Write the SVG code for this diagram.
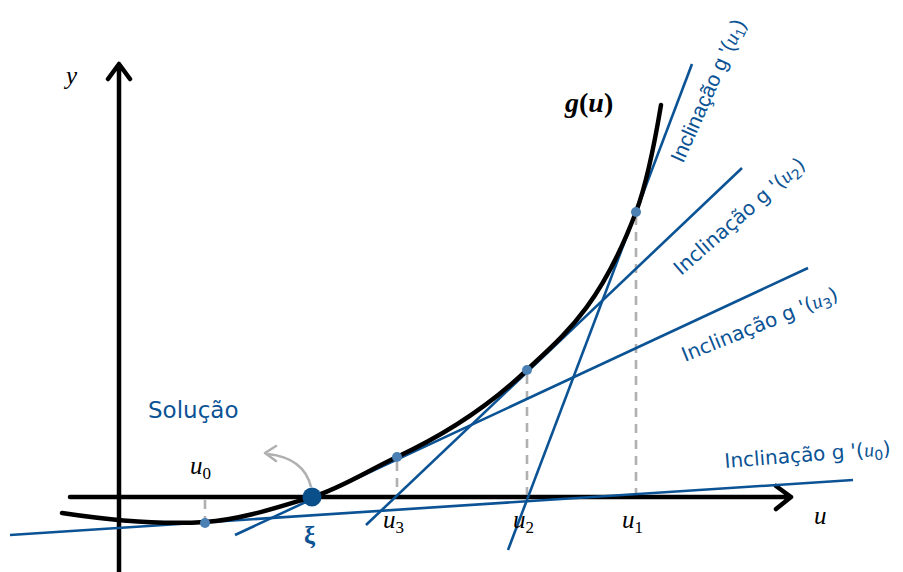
<svg xmlns="http://www.w3.org/2000/svg" width="903" height="572" viewBox="0 0 903 572">
<style>
.axis{stroke:#000;stroke-width:4.5;fill:none;stroke-linecap:round;stroke-linejoin:round}
.curve{stroke:#000;stroke-width:4.5;fill:none;stroke-linecap:round}
.tan{stroke:#0b5394;stroke-width:2.6;fill:none}
.dash{stroke:#b0b0b0;stroke-width:2.6;stroke-dasharray:9,7;fill:none}
.dot{fill:#4a80b4}
.math{font-family:"Liberation Serif","DejaVu Serif",serif;font-style:italic;font-size:25px;fill:#000}
.sub{font-style:normal;font-size:17px}
.lab{font-family:"DejaVu Sans","Open Sans",sans-serif;font-size:20px;fill:#0b5394}
.lab1{font-family:"Liberation Sans",Arial,sans-serif;font-size:21px;fill:#0b5394}
.lm{font-family:"Liberation Serif",serif;font-style:italic}
.ls{font-size:14px}
</style>
<rect width="903" height="572" fill="#fff"/>
<g id="axes">
<path class="axis" d="M119,572 V64 M108,79 L119,64 L130,79"/>
<path class="axis" d="M70,497 H791 M776,486 L791,497 L776,509"/>
</g>
<g id="guides">
<path class="dash" d="M205,500 V520 M397,462 V495 M527,375 V495 M636,216 V495"/>
</g>
<g id="connectors">
<line class="tan" x1="10" y1="535" x2="853" y2="480"/>
<line class="tan" x1="235" y1="535" x2="808" y2="268"/>
<line class="tan" x1="366" y1="525" x2="742" y2="168"/>
<line class="tan" x1="508" y1="550" x2="692" y2="64"/>
<path d="M311,487 Q304,458 268,454" stroke="#b0b0b0" stroke-width="2.6" fill="none"/>
<path d="M276,446 L265,453 L276,461" stroke="#b0b0b0" stroke-width="2.6" fill="none" stroke-linecap="round" stroke-linejoin="round"/>
</g>
<g id="curve">
<path class="curve" d="M62,513 C109.7,520.2 157.3,525.1 205,522 C240.7,519.7 276.3,507.7 312,497 C340.3,488.5 368.7,470.2 397,457 C440.3,436.8 483.7,411.1 527,370 C563.3,335.5 599.7,307.9 636,212 C644.3,190 652.7,154.8 661,105"/>
</g>
<g id="points">
<circle class="dot" cx="205" cy="523" r="5"/>
<circle class="dot" cx="397" cy="457" r="5"/>
<circle class="dot" cx="527" cy="370" r="5"/>
<circle class="dot" cx="636" cy="212" r="5"/>
<circle cx="312" cy="497" r="9.5" fill="#0a4f8a"/>
</g>
<g id="labels">
<text class="math" x="66" y="84">y</text>
<text class="math" x="814" y="524">u</text>
<text class="math" x="565" y="112" style="font-weight:bold;font-style:normal;font-size:28px"><tspan font-style="italic">g</tspan>(<tspan font-style="italic">u</tspan>)</text>
<text class="math" x="190" y="474">u<tspan class="sub" dy="5">0</tspan></text>
<text class="math" x="383" y="528">u<tspan class="sub" dy="5">3</tspan></text>
<text class="math" x="513" y="528">u<tspan class="sub" dy="5">2</tspan></text>
<text class="math" x="622" y="528">u<tspan class="sub" dy="5">1</tspan></text>
<text class="math" x="304" y="544" style="fill:#0b5394;font-weight:bold;font-style:normal">ξ</text>
<text class="lab" x="148" y="418" style="font-size:23px">Solução</text>
<text class="lab1" transform="translate(683,164) rotate(-66)">Inclinação g '(<tspan class="lm">u</tspan><tspan class="ls" dy="4">1</tspan><tspan dy="-4">)</tspan></text>
<text class="lab" transform="translate(681,276) rotate(-41)">Inclinação g '(<tspan class="lm">u</tspan><tspan class="ls" dy="4">2</tspan><tspan dy="-4">)</tspan></text>
<text class="lab" transform="translate(685,362) rotate(-22)">Inclinação g '(<tspan class="lm">u</tspan><tspan class="ls" dy="4">3</tspan><tspan dy="-4">)</tspan></text>
<text class="lab" transform="translate(725,468) rotate(-4.5)">Inclinação g '(<tspan class="lm">u</tspan><tspan class="ls" dy="4">0</tspan><tspan dy="-4">)</tspan></text>
</g>
</svg>
